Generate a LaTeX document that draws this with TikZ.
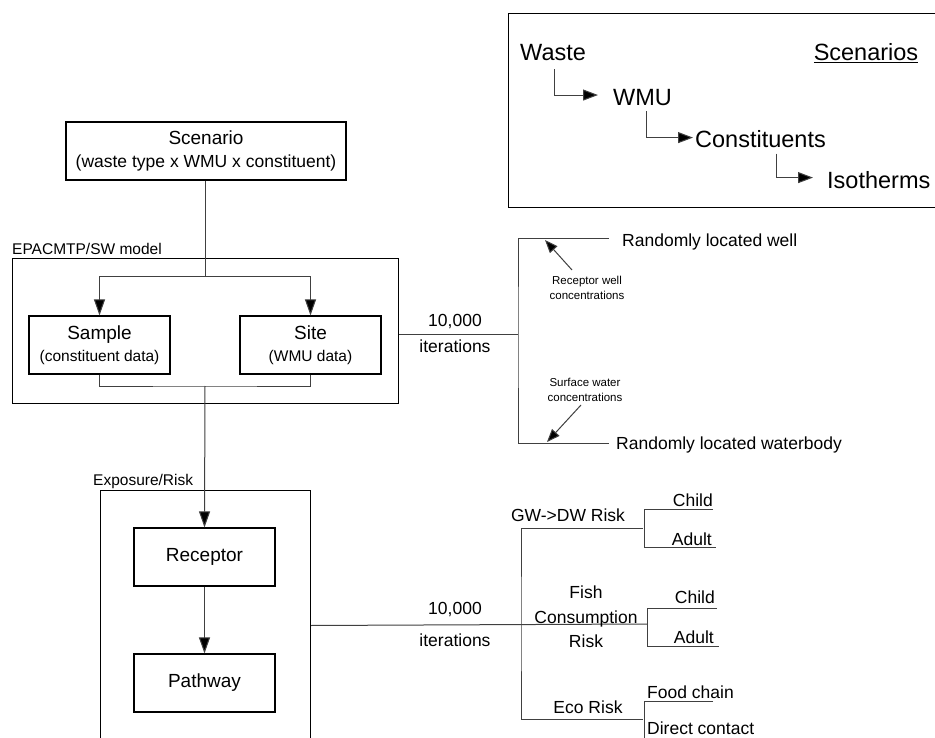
\documentclass[tikz,border=0pt]{standalone}
\usepackage{fontspec}
\setmainfont{Liberation Sans}
\usetikzlibrary{arrows.meta,calc}
\newcommand\fsbig{\fontsize{19}{24}\selectfont}
\newcommand\fssub{\fontsize{15.5}{20}\selectfont}
\newcommand\fsmid{\fontsize{17.5}{25}\selectfont}
\newcommand\fssmall{\fontsize{11.5}{14.5}\selectfont}
\newcommand\fshuge{\fontsize{23.5}{28}\selectfont}
\begin{document}
\begin{tikzpicture}[x=1pt,y=-1pt,
  box/.style={draw=black, line width=1.1pt, minimum width=141pt, minimum height=58pt, inner sep=0pt, align=center, font=\fsbig},
  frame/.style={draw=black, line width=1pt, inner sep=0pt, anchor=north west},
  conn/.style={draw=black!75, line width=1pt},
  arr/.style={conn, -{Triangle[length=16pt,width=11pt,fill=black]}},
  sarr/.style={conn, -{Triangle[length=15pt,width=11pt,fill=black]}},
  tarr/.style={conn, -{Triangle[length=13pt,width=10pt,fill=black]}},
  lbl/.style={inner sep=0pt, font=\fsmid},
  txt/.style={inner sep=0pt, align=center, font=\fsmid}]
\clip (0,0) rectangle (935,738);
\useasboundingbox (0,0) rectangle (935,738);
\fill[white] (0,0) rectangle (935,738);

% Scenarios legend box
\node[frame, minimum width=440pt, minimum height=194pt] (legend) at (508,13) {};
\node[inner sep=0pt, anchor=base west, font=\fshuge] (waste) at (520,61) {Waste};
\node[inner sep=0pt, anchor=base, font=\fshuge] (scenl) at (866,61) {\underline{Scenarios}};
\node[inner sep=0pt, anchor=base west, font=\fshuge] (wmu) at (613,106) {WMU};
\node[inner sep=0pt, anchor=base west, font=\fshuge] (const) at (695,148) {Constituents};
\node[inner sep=0pt, anchor=base west, font=\fshuge] (iso) at (827,189) {Isotherms};
\draw[sarr] ($(waste.west)+(34,16)$) |- ($(wmu.west)+(-15,-3)$);
\draw[sarr] ($(wmu.west)+(33,13)$) |- ($(const.west)+(-2,-2)$);
\draw[sarr] ($(const.west)+(81,14)$) |- ($(iso.west)+(-14,-3)$);

% Scenario box
\node[box, minimum width=280pt] (scen) at (206,151) {Scenario\\[-1pt]{\fontsize{17.5}{22}\selectfont(waste type x WMU x constituent)}};

% EPACMTP box
\node[frame, minimum width=386pt, minimum height=145pt] (epa) at (12,258) {};
\node[inner sep=0pt, anchor=base west, font=\fssub] (epal) at (12,255) {EPACMTP/SW model};
\node[box] (sample) at (99.5,345) {Sample\\[-2pt]{\fssub(constituent data)}};
\node[box] (site) at (310.5,345) {Site\\[-2pt]{\fssub(WMU data)}};
\coordinate (split) at (205,277);
\coordinate (merge) at (205,386);
\draw[conn] (scen.south -| split) -- (split);
\draw[arr] (split) -| (sample.north);
\draw[arr] (split) -| (site.north);
\draw[conn] (sample.south) |- (merge) -| (site.south);

% Exposure box
\node[frame, minimum width=210pt, minimum height=270pt] (expo) at (100,490) {};
\node[inner sep=0pt, anchor=base west, font=\fssub] (expol) at (93,485) {Exposure/Risk};
\node[box] (rec) at (204.5,557) {Receptor};
\node[box] (path) at (204.5,683) {Pathway};
\draw[arr] (merge) -- (rec.north);
\draw[arr] (rec) -- (path);

% upper iterations
\node[lbl] (n1) at (455,322) {10,000};
\node[lbl] (it1) at (455,346) {iterations};
\coordinate (b1) at (518,334);
\coordinate (bt) at (609,239);
\coordinate (bb) at (609,443);
\draw[conn] (epa.east |- b1) -- (b1);
\draw[conn] (bt) -| (b1) |- (bb);
\node[inner sep=0pt, anchor=base west, font=\fsmid] (well) at (622,247) {Randomly located well};
\node[inner sep=0pt, anchor=base west, font=\fsmid] (wbody) at (616,449) {Randomly located waterbody};
\node[txt, font=\fssmall] (rwc) at (587,288) {Receptor well\\concentrations};
\node[txt, font=\fssmall] (swc) at (585,390) {Surface water\\concentrations};
\coordinate (a1s) at (572,270);
\coordinate (a1e) at (545,240);
\coordinate (a2s) at (581,405);
\coordinate (a2e) at (547,442);
\draw[tarr] (a1s) -- (a1e);
\draw[tarr] (a2s) -- (a2e);

% lower iterations
\node[lbl] (n2) at (455,610) {10,000};
\node[lbl] (it2) at (455,640) {iterations};
\coordinate (c1) at (521,624);
\coordinate (ct) at (643,528);
\coordinate (cb) at (643,719);
\coordinate (s2) at (647,624);
\draw[conn] (expo.east) -- (s2);
\draw[conn] (ct) -| (c1) |- (cb);
\node[txt] (gw) at (568,515) {GW->DW Risk};
\node[txt, font=\fontsize{17.5}{24.5}\selectfont] (fish) at (586,617) {Fish\\Consumption\\Risk};
\node[txt] (eco) at (588,707) {Eco Risk};

% sub-brackets
\draw[conn] (713,509) -- (644,509) -- (644,547) -- (716,547);
\draw[conn] (717,608) -- (647,608) -- (647,646) -- (719,646);
\draw[conn] (713,701) -- (644,701) -- (644,760);
\node[inner sep=0pt, anchor=base east, font=\fsmid] (ch1) at (713,506) {Child};
\node[inner sep=0pt, anchor=base east, font=\fsmid] (ad1) at (712,545) {Adult};
\node[inner sep=0pt, anchor=base east, font=\fsmid] (ch2) at (715,603) {Child};
\node[inner sep=0pt, anchor=base east, font=\fsmid] (ad2) at (714,643) {Adult};
\node[inner sep=0pt, anchor=base west, font=\fsmid] (fc) at (647,698) {Food chain};
\node[inner sep=0pt, anchor=base west, font=\fsmid] (dc) at (647,734) {Direct contact};
\end{tikzpicture}
\end{document}
